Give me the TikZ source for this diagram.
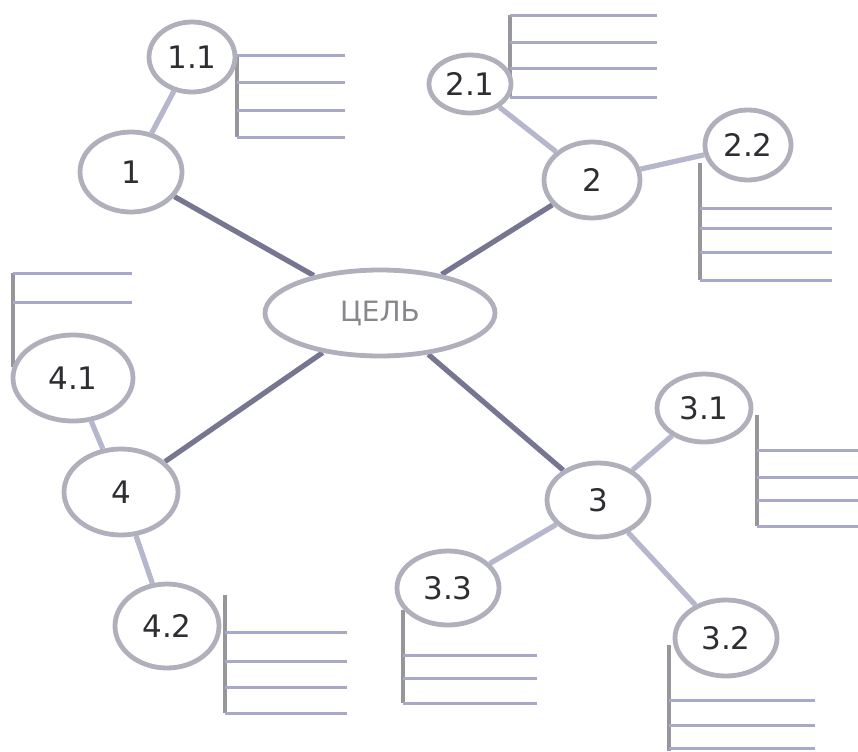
\documentclass[tikz,border=0pt]{standalone}
\usepackage{fontspec}
\setmainfont{DejaVu Sans}
\usetikzlibrary{shapes.geometric}
\definecolor{ringgray}{RGB}{176,176,188}
\definecolor{maingray}{RGB}{118,118,145}
\definecolor{subgray}{RGB}{182,182,204}
\definecolor{stemgray}{RGB}{150,150,155}
\definecolor{rulegray}{RGB}{168,168,200}
\definecolor{digitgray}{RGB}{45,45,50}
\definecolor{goalgray}{RGB}{135,135,140}
\pgfdeclarelayer{nodelayer}
\pgfdeclarelayer{edgelayer}
\pgfsetlayers{edgelayer,nodelayer,main}
\tikzset{bubble/.style={shape=ellipse, draw=ringgray, line width=2.4pt, fill=white,
inner sep=0pt, text=digitgray, font=\fontsize{15.5}{18}\selectfont}}
\tikzset{goalbubble/.style={bubble, text=goalgray, font=\fontsize{14}{16}\selectfont}}
\tikzset{trunk/.style={draw=maingray, line width=2.6pt}}
\tikzset{twig/.style={draw=subgray, line width=2.6pt}}
\tikzset{stem/.style={draw=stemgray, line width=1.6pt}}
\tikzset{ruling/.style={draw=rulegray, line width=1.5pt}}

\begin{document}
\begin{tikzpicture}[x=0.5pt, y=-0.5pt]
    \useasboundingbox (0,0) rectangle (858,751);
    \begin{pgfonlayer}{nodelayer}
        \node [goalbubble, minimum width=115pt, minimum height=43pt] (goal) at (380,313) {ЦЕЛЬ};
        \node [bubble, minimum width=51pt, minimum height=40pt] (1) at (131,172) {1};
        \node [bubble, minimum width=43pt, minimum height=35pt] (11) at (192,57) {1.1};
        \node [bubble, minimum width=48pt, minimum height=38pt] (2) at (592,180) {2};
        \node [bubble, minimum width=41pt, minimum height=29pt] (21) at (470,84) {2.1};
        \node [bubble, minimum width=43pt, minimum height=35pt] (22) at (748,145) {2.2};
        \node [bubble, minimum width=51pt, minimum height=37pt] (3) at (598,500) {3};
        \node [bubble, minimum width=47pt, minimum height=34pt] (31) at (704,408) {3.1};
        \node [bubble, minimum width=51pt, minimum height=38pt] (32) at (726,638) {3.2};
        \node [bubble, minimum width=51pt, minimum height=37pt] (33) at (448,588) {3.3};
        \node [bubble, minimum width=57pt, minimum height=43pt] (4) at (121,492) {4};
        \node [bubble, minimum width=60pt, minimum height=43pt] (41) at (73,378) {4.1};
        \node [bubble, minimum width=52pt, minimum height=42pt] (42) at (167,626) {4.2};
    \end{pgfonlayer}
    \begin{pgfonlayer}{edgelayer}
        \draw [trunk] (goal) to (1);
        \draw [trunk] (goal) to (2);
        \draw [trunk] (goal) to (3);
        \draw [trunk] (goal) to (4);
        \draw [twig] (1) to (11);
        \draw [twig] (2) to (21);
        \draw [twig] (2) to (22);
        \draw [twig] (3) to (31);
        \draw [twig] (3) to (32);
        \draw [twig] (3) to (33);
        \draw [twig] (4) to (41);
        \draw [twig] (4) to (42);
        % note lines
        \draw [stem] (237,55) to (237,137);
        \foreach \y in {55,82,110,137} \draw [ruling] (237,\y) to (345,\y);
        \draw [stem] (510,15) to (510,97);
        \foreach \y in {15,42,68,97} \draw [ruling] (510,\y) to (657,\y);
        \draw [stem] (700,163) to (700,280);
        \foreach \y in {208,228,252,280} \draw [ruling] (700,\y) to (832,\y);
        \draw [stem] (13,273) to (13,367);
        \foreach \y in {273,302} \draw [ruling] (13,\y) to (132,\y);
        \draw [stem] (225,595) to (225,713);
        \foreach \y in {632,661,687,713} \draw [ruling] (225,\y) to (347,\y);
        \draw [stem] (757,415) to (757,526);
        \foreach \y in {450,477,500,526} \draw [ruling] (757,\y) to (858,\y);
        \draw [stem] (403,610) to (403,703);
        \foreach \y in {655,678,703} \draw [ruling] (403,\y) to (537,\y);
        \draw [stem] (669,645) to (669,751);
        \foreach \y in {700,725,748} \draw [ruling] (669,\y) to (815,\y);
    \end{pgfonlayer}
\end{tikzpicture}
\end{document}
